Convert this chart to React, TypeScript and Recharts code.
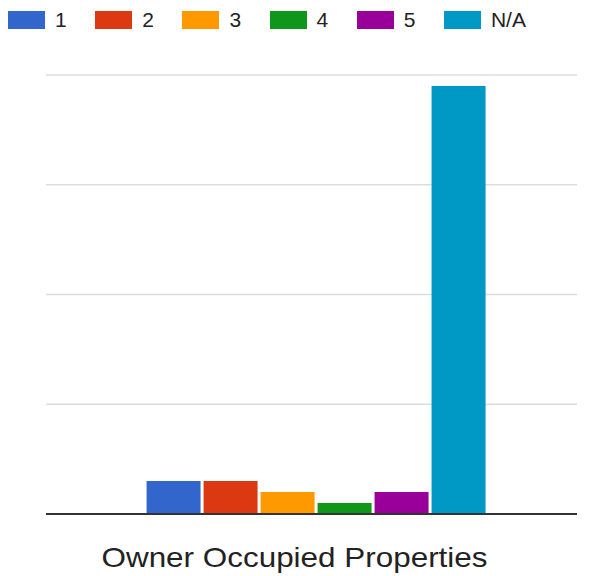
import React from 'react';
import { BarChart, Bar, XAxis, YAxis, CartesianGrid, Legend } from 'recharts';

const categories = ['Owner Occupied Properties'];
const seriesNames = ['1', '2', '3', '4', '5', 'N/A'];
const seriesValues = [3, 3, 2, 1, 2, 39];
const seriesColors = ['#3366cc', '#dc3912', '#ff9900', '#109618', '#990099', '#0099c6'];
const yTicks = [0, 10, 20, 30, 40];

const data = categories.map(name => {
  const row: Record<string, string | number> = { name };
  seriesNames.forEach((_, i) => {
    row[`s${i}`] = seriesValues[i];
  });
  return row;
});

const FONT = '"Liberation Sans", Arial, sans-serif';

const renderLegend = () => (
  <div style={{ display: 'flex', fontFamily: FONT, fontSize: 21, color: '#222' }}>
    {seriesNames.map((n, i) => (
      <div key={n} style={{ width: 87.2, display: 'flex', alignItems: 'center', height: 18 }}>
        <span style={{ width: 37, height: 18, background: seriesColors[i], marginRight: 10, display: 'inline-block' }} />
        <span style={{ lineHeight: '18px' }}>{n}</span>
      </div>
    ))}
  </div>
);

const CategoryTick = (props: any) => {
  const { x, y, payload } = props;
  return (
    <text
      x={x - 21}
      y={y}
      dy={23}
      textAnchor="middle"
      fill="#222"
      fontFamily={FONT}
      fontSize={28}
      textLength={386}
      lengthAdjust="spacingAndGlyphs"
    >
      {payload.value}
    </text>
  );
};

export default function App() {
  return (
    <div style={{ position: 'absolute', left: 0, top: 0, background: '#fff' }}>
      <BarChart
        width={590}
        height={576}
        data={data}
        margin={{ top: 75, right: 13, left: 46, bottom: 0 }}
        barCategoryGap="17.7%"
        barGap={3}
      >
        <CartesianGrid vertical={false} stroke="#dcdcdc" strokeWidth={1.5} />
        <XAxis
          dataKey="name"
          height={62}
          padding={{ left: 8, right: 0 }}
          axisLine={{ stroke: '#333', strokeWidth: 2 }}
          tickLine={false}
          tickSize={0}
          tickMargin={30}
          tick={<CategoryTick />}
        />
        <YAxis hide domain={[0, 40]} ticks={yTicks} />
        <Legend
          verticalAlign="middle"
          align="center"
          content={renderLegend}
          wrapperStyle={{ top: 11, left: 8, width: 582 }}
        />
        {seriesNames.map((n, i) => (
          <Bar key={n} dataKey={`s${i}`} name={n} fill={seriesColors[i]} isAnimationActive={false} />
        ))}
      </BarChart>
    </div>
  );
}
